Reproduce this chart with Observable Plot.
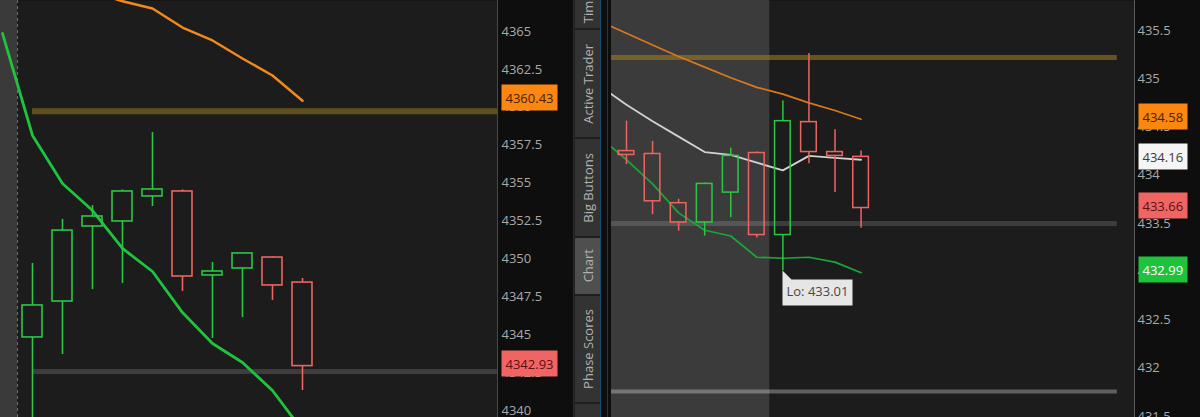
<!DOCTYPE html>
<html>
<head>
<meta charset="utf-8">
<script src="https://cdn.jsdelivr.net/npm/d3@7"></script>
<script src="https://cdn.jsdelivr.net/npm/@observablehq/plot@0.6"></script>
<style>
  html, body { margin: 0; padding: 0; background: #0b0b0b; width: 1200px; height: 417px; overflow: hidden; font-family: "Open Sans", sans-serif; }
  #wrap { position: relative; width: 1200px; height: 417px; overflow: hidden; }
  #left { position: absolute; left: 0; top: 0; }
  #right { position: absolute; left: 601px; top: 0; }
  #tabs { position: absolute; left: 573px; top: 0; width: 27px; height: 417px; background: #1f1f1f; border-left: 1px solid #2c2c2c; }
  .tab { position: absolute; left: 1px; width: 26px; background: #333333; display: flex; align-items: center; justify-content: center; box-sizing: border-box; overflow: visible; }
  .tab span { writing-mode: vertical-rl; transform: rotate(180deg); color: #b2b2b2; font-size: 13px; white-space: nowrap; }
  .tab.active { background: #4f4f4f; }
  #tabEdge { position: absolute; left: 600px; top: 0; width: 1px; height: 417px; background: #1d4a68; }
  #panelEdge { position: absolute; left: 607px; top: 0; width: 1px; height: 417px; background: #343434; }
</style>
</head>
<body>
<div id="wrap">
  <div id="left"></div>
  <div id="tabs"></div>
  <div id="tabEdge"></div>
  <div id="right"></div>
  <div id="panelEdge"></div>
</div>
<script>
// ---------- Left panel: index futures ----------
const leftOpen  = [4344.82, 4347.19, 4352.14, 4352.47, 4354.12, 4354.45, 4348.91, 4349.37, 4350.09, 4348.44];
const leftHigh  = [4349.70, 4352.60, 4353.52, 4354.55, 4358.34, 4354.55, 4349.76, 4350.40, 4350.15, 4348.71];
const leftLow   = [4338.50, 4343.69, 4347.98, 4348.38, 4353.46, 4347.85, 4344.75, 4346.13, 4347.26, 4341.32];
const leftClose = [4346.93, 4351.87, 4352.80, 4354.45, 4354.58, 4348.84, 4349.17, 4350.36, 4348.25, 4342.93];
// moving averages; the first entry belongs to the bar just before the first candle
const leftAvgFast = [4364.87, 4358.14, 4354.97, 4353.19, 4350.69, 4349.17, 4346.46, 4344.42, 4343.17, 4341.32, 4338.68];
const leftAvgSlow = [null, null, null, 4367.60, 4367.00, 4366.52, 4365.26, 4364.41, 4363.22, 4362.10, 4360.43];
const leftResistance = 4359.74;
const leftSupport = 4342.57;
const leftSessionStart = 0;
const leftTicks = [4340, 4342.5, 4345, 4347.5, 4350, 4352.5, 4355, 4357.5, 4360, 4362.5, 4365];

// ---------- Right panel: ETF ----------
const rightOpen  = [434.25, 434.22, 433.71, 433.51, 433.82, 434.23, 433.38, 434.55, 434.24, 434.19];
const rightHigh  = [434.56, 434.35, 433.75, 433.92, 434.28, 434.24, 434.77, 435.26, 434.47, 434.25];
const rightLow   = [434.11, 433.59, 433.42, 433.37, 433.56, 433.35, 433.01, 434.12, 433.82, 433.45];
const rightClose = [434.21, 433.73, 433.51, 433.91, 434.20, 433.38, 434.56, 434.24, 434.20, 433.66];
const rightAvgSlow = [435.59, 435.47, 435.35, 435.23, 435.12, 435.01, 434.91, 434.84, 434.75, 434.67, 434.58];
const rightAvgMid  = [434.92, 434.73, 434.56, 434.40, 434.24, 434.21, 434.13, 434.05, 434.20, 434.18, 434.16];
const rightAvgFast = [434.39, 434.16, 433.91, 433.61, 433.43, 433.37, 433.15, 433.14, 433.15, 433.10, 432.99];
const rightResistance = 435.22;
const rightSupport = 433.50;
const rightLowerLevel = 431.76;
const rightSessionStart = 6;
const rightTicks = [431.5, 432, 432.5, 433, 433.5, 434, 434.5, 435, 435.5];

// side tabs
const tabNames = ["Time & Sales", "Active Trader", "Big Buttons", "Chart", "Phase Scores", "Setups"];
const activeTab = "Chart";

// ---------- helpers ----------
const UP = "#2ec646", DOWN = "#ec6562";
const bars = (o, h, l, c) => o.map((v, i) => ({i, o: v, h: h[i], l: l[i], c: c[i]}));
const series = (values) => values.map((v, k) => ({i: k - 1, v})).filter(d => d.v != null);

function candleMarks(data, half, sw) {
  const out = [];
  for (const [set, color] of [[data.filter(d => d.c >= d.o), UP], [data.filter(d => d.c < d.o), DOWN]]) {
    out.push(
      Plot.ruleX(set, {x: "i", y1: "h", y2: d => Math.max(d.o, d.c), stroke: color, strokeWidth: sw, clip: true}),
      Plot.ruleX(set, {x: "i", y1: d => Math.min(d.o, d.c), y2: "l", stroke: color, strokeWidth: sw, clip: true}),
      Plot.rect(set, {x1: d => d.i - half, x2: d => d.i + half, y1: "o", y2: "c",
        fill: "none", stroke: color, strokeWidth: sw, clip: true})
    );
  }
  return out;
}

// Price tags on the axis: a tip with no pointer, coloured background.
function badge(value, xEdge, fill) {
  return Plot.tip([value], {
    x: () => xEdge, y: d => d, title: d => d.toFixed(2),
    anchor: "left", pointerSize: 0, textPadding: 4, lineHeight: 0.75,
    dx: 4, dy: -3, fill, stroke: "none", pathFilter: "none",
    fontSize: 13, fontFamily: "Open Sans"
  });
}

// The tip text is drawn in currentColor; the tags sit last in each chart,
// so colour those mark groups (in mark order) from the end of the SVG.
function inkTrailingMarks(selector, inks) {
  const css = inks.map((ink, k) =>
    `${selector} svg > g:nth-last-child(${inks.length - k}) { color: ${ink}; }`).join("\n");
  const style = document.createElement("style");
  style.textContent = css;
  document.head.append(style);
}

const baseStyle = {background: "#0e0e0e", color: "#a9a9a9", fontFamily: "'Open Sans', sans-serif", fontSize: "13px", overflow: "visible"};

// ---------- left chart ----------
const lx = [-1.0667, 15.5];
const leftBars = bars(leftOpen, leftHigh, leftLow, leftClose);
const leftChart = Plot.plot({
  width: 573, height: 417,
  marginLeft: 0, marginRight: 76, marginTop: 0, marginBottom: 0,
  x: {domain: lx, axis: null},
  y: {domain: [4339.54, 4367.045], axis: null},
  style: baseStyle,
  marks: [
    Plot.frame({fill: "#1c1c1c", stroke: "none"}),
    Plot.rect([0], {x1: lx[0], x2: leftSessionStart - 0.5, fill: "#3a3a3a"}),
    Plot.ruleX([leftSessionStart - 0.5], {stroke: "#6e6e6e", strokeDasharray: "3,3"}),
    Plot.ruleY([leftResistance], {x1: leftSessionStart, x2: lx[1], stroke: "#5f501c", strokeWidth: 6}),
    Plot.ruleY([leftSupport], {x1: leftSessionStart, x2: lx[1], stroke: "#3d3d3d", strokeWidth: 5}),
    Plot.line(series(leftAvgSlow), {x: "i", y: "v", stroke: "#f0891e", strokeWidth: 2.5, clip: true}),
    Plot.line(series(leftAvgFast), {x: "i", y: "v", stroke: "#1fc43c", strokeWidth: 2.8, clip: true}),
    ...candleMarks(leftBars, 0.333, 1.6),
    Plot.frame({anchor: "right", stroke: "#484848"}),
    Plot.axisY(leftTicks, {anchor: "right", tickSize: 0, tickPadding: 4, tickFormat: d => String(d), label: null, fill: "#a9a9a9"}),
    badge(leftAvgSlow[leftAvgSlow.length - 1], lx[1], "#fb8610"),
    badge(leftClose[leftClose.length - 1], lx[1], "#f06464")
  ]
});
document.getElementById("left").append(leftChart);
inkTrailingMarks("#left", ["#4a2200", "#5c1010"]);

// ---------- right chart ----------
const rx = [-0.575, 19.49];
const rightBars = bars(rightOpen, rightHigh, rightLow, rightClose);
const lowBar = rightBars.reduce((a, b) => (b.l < a.l ? b : a));
const rightChart = Plot.plot({
  width: 599, height: 417,
  marginLeft: 10, marginRight: 66, marginTop: 0, marginBottom: 0,
  x: {domain: rx, axis: null},
  y: {domain: [431.49, 435.81], axis: null},
  style: baseStyle,
  marks: [
    Plot.frame({fill: "#1c1c1c", stroke: "none"}),
    Plot.rect([0], {x1: rx[0], x2: rightSessionStart - 0.5, fill: "#3b3b3b"}),
    Plot.ruleY([rightResistance], {x1: rx[0], x2: 18.83, stroke: "#a5841c", strokeOpacity: 0.55, strokeWidth: 5}),
    Plot.ruleY([rightSupport], {x1: rx[0], x2: 18.83, stroke: "#ffffff", strokeOpacity: 0.14, strokeWidth: 5}),
    Plot.ruleY([rightLowerLevel], {x1: rx[0], x2: 18.83, stroke: "#ffffff", strokeOpacity: 0.3, strokeWidth: 4}),
    Plot.line(series(rightAvgSlow), {x: "i", y: "v", stroke: "#d9781a", strokeWidth: 1.7, clip: true}),
    Plot.line(series(rightAvgMid), {x: "i", y: "v", stroke: "#d2d2d2", strokeWidth: 1.8, clip: true}),
    Plot.line(series(rightAvgFast), {x: "i", y: "v", stroke: "#19a837", strokeWidth: 1.7, clip: true}),
    ...candleMarks(rightBars, 0.3, 1.5),
    Plot.frame({anchor: "right", stroke: "#5a5a5a"}),
    Plot.axisY(rightTicks, {anchor: "right", tickSize: 0, tickPadding: 3, tickFormat: d => String(d), label: null, fill: "#a9a9a9"}),
    Plot.tip([lowBar], {
      x: "i", y: "l", title: d => `Lo: ${d.l.toFixed(2)}`,
      anchor: "top-left", pointerSize: 9, textPadding: 4, lineHeight: 1,
      fill: "#e6e6e6", stroke: "none", pathFilter: "none",
      fontSize: 13, fontFamily: "Open Sans"
    }),
    badge(rightAvgSlow[rightAvgSlow.length - 1], rx[1], "#fb8610"),
    badge(rightAvgMid[rightAvgMid.length - 1], rx[1], "#f5f5f5"),
    badge(rightClose[rightClose.length - 1], rx[1], "#f06464"),
    badge(rightAvgFast[rightAvgFast.length - 1], rx[1], "#1fc23b")
  ]
});
document.getElementById("right").append(rightChart);
inkTrailingMarks("#right", ["#474747", "#4a2200", "#3a3a3a", "#5c1010", "#ffffff"]);

// ---------- vertical tab strip ----------
const tabSpans = [[-58, 28], [30, 137], [139, 236], [238, 294], [296, 402], [404, 500]];
const tabs = document.getElementById("tabs");
tabNames.forEach((name, k) => {
  const [top, bottom] = tabSpans[k];
  const el = document.createElement("div");
  el.className = "tab" + (name === activeTab ? " active" : "");
  el.style.top = top + "px";
  el.style.height = (bottom - top) + "px";
  const span = document.createElement("span");
  span.textContent = name;
  el.append(span);
  tabs.append(el);
});
</script>
</body>
</html>
